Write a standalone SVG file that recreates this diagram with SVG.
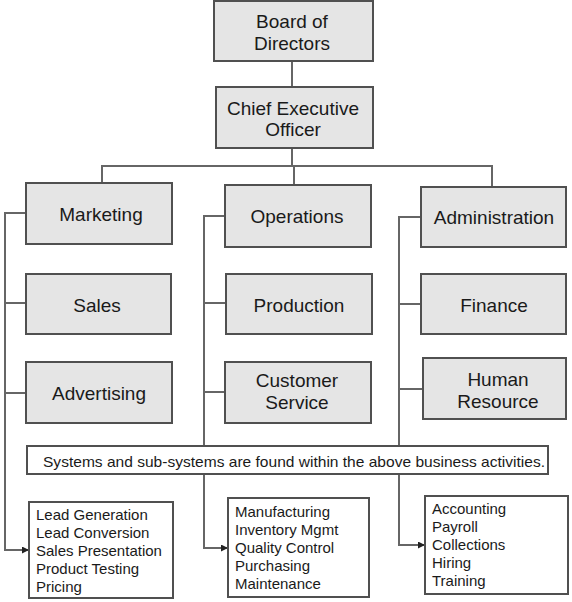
<svg xmlns="http://www.w3.org/2000/svg" width="572" height="602" viewBox="0 0 572 602">
<defs>
<style>
.box{fill:#e5e5e5;stroke:#505050;stroke-width:2}
.sub{fill:#ffffff;stroke:#505050;stroke-width:2}
.t{font-family:"Liberation Sans",Arial,sans-serif;font-size:19px;fill:#1a1a1a;text-anchor:middle}
.s{font-family:"Liberation Sans",Arial,sans-serif;font-size:15px;fill:#1a1a1a}
.c{fill:none;stroke:#666666;stroke-width:2}
</style>
<marker id="arr" viewBox="0 0 10 10" refX="10" refY="5" markerWidth="7" markerHeight="7" markerUnits="userSpaceOnUse" orient="auto">
<path d="M0,0 L10,5 L0,10 Z" fill="#222222"/>
</marker>
</defs>
<rect width="572" height="602" fill="#ffffff"/>
<g id="connectors">
<line class="c" x1="292" y1="61" x2="292" y2="87"/>
<line class="c" x1="292" y1="148" x2="292" y2="166"/>
<polyline class="c" points="102,183 102,166 492,166 492,187"/>
<line class="c" x1="294" y1="166" x2="294" y2="185"/>
<polyline class="c" points="26,213 5,213 5,550 29,550" marker-end="url(#arr)"/>
<line class="c" x1="5" y1="303" x2="26" y2="303"/>
<line class="c" x1="5" y1="393" x2="26" y2="393"/>
<polyline class="c" points="225,216 204,216 204,446"/>
<polyline class="c" points="204,474 204,548 228,548" marker-end="url(#arr)"/>
<line class="c" x1="204" y1="303" x2="226" y2="303"/>
<line class="c" x1="204" y1="392" x2="225" y2="392"/>
<polyline class="c" points="421,217 399,217 399,446"/>
<polyline class="c" points="399,474 399,545 425,545" marker-end="url(#arr)"/>
<line class="c" x1="399" y1="304" x2="421" y2="304"/>
<line class="c" x1="399" y1="389" x2="423" y2="389"/>
</g>
<g id="board"><rect class="box" x="214" y="1" width="159" height="60"/><text class="t" x="292" y="28">Board of</text><text class="t" x="292" y="50">Directors</text></g>
<g id="ceo"><rect class="box" x="216" y="87" width="157" height="61"/><text class="t" x="293" y="115">Chief Executive</text><text class="t" x="293" y="136">Officer</text></g>
<g id="marketing"><rect class="box" x="26" y="183" width="146" height="61"/><text class="t" x="101" y="221">Marketing</text></g>
<g id="sales"><rect class="box" x="26" y="274" width="145" height="60"/><text class="t" x="97" y="312">Sales</text></g>
<g id="advertising"><rect class="box" x="26" y="362" width="146" height="61"/><text class="t" x="99" y="400">Advertising</text></g>
<g id="operations"><rect class="box" x="225" y="185" width="146" height="62"/><text class="t" x="297" y="223">Operations</text></g>
<g id="production"><rect class="box" x="226" y="274" width="146" height="60"/><text class="t" x="299" y="312">Production</text></g>
<g id="customer-service"><rect class="box" x="225" y="362" width="146" height="61"/><text class="t" x="297" y="387">Customer</text><text class="t" x="297" y="409">Service</text></g>
<g id="administration"><rect class="box" x="421" y="187" width="145" height="60"/><text class="t" x="494" y="224">Administration</text></g>
<g id="finance"><rect class="box" x="421" y="274" width="145" height="60"/><text class="t" x="494" y="312">Finance</text></g>
<g id="human-resource"><rect class="box" x="423" y="358" width="143" height="61"/><text class="t" x="498" y="386">Human</text><text class="t" x="498" y="408">Resource</text></g>
<g id="systems"><rect class="sub" x="27" y="446" width="521" height="28"/><text class="s" x="43" y="467" textLength="502" lengthAdjust="spacingAndGlyphs">Systems and sub-systems are found within the above business activities.</text></g>
<g id="marketing-sub"><rect class="sub" x="29" y="502" width="144" height="96"/>
<text class="s" x="36" y="520">Lead Generation</text><text class="s" x="36" y="538">Lead Conversion</text><text class="s" x="36" y="556">Sales Presentation</text><text class="s" x="36" y="574">Product Testing</text><text class="s" x="36" y="592">Pricing</text></g>
<g id="operations-sub"><rect class="sub" x="228" y="498" width="141" height="99"/>
<text class="s" x="235" y="517">Manufacturing</text><text class="s" x="235" y="535">Inventory Mgmt</text><text class="s" x="235" y="553">Quality Control</text><text class="s" x="235" y="571">Purchasing</text><text class="s" x="235" y="589">Maintenance</text></g>
<g id="administration-sub"><rect class="sub" x="425" y="496" width="143" height="98"/>
<text class="s" x="432" y="514">Accounting</text><text class="s" x="432" y="532">Payroll</text><text class="s" x="432" y="550">Collections</text><text class="s" x="432" y="568">Hiring</text><text class="s" x="432" y="586">Training</text></g>
</svg>
